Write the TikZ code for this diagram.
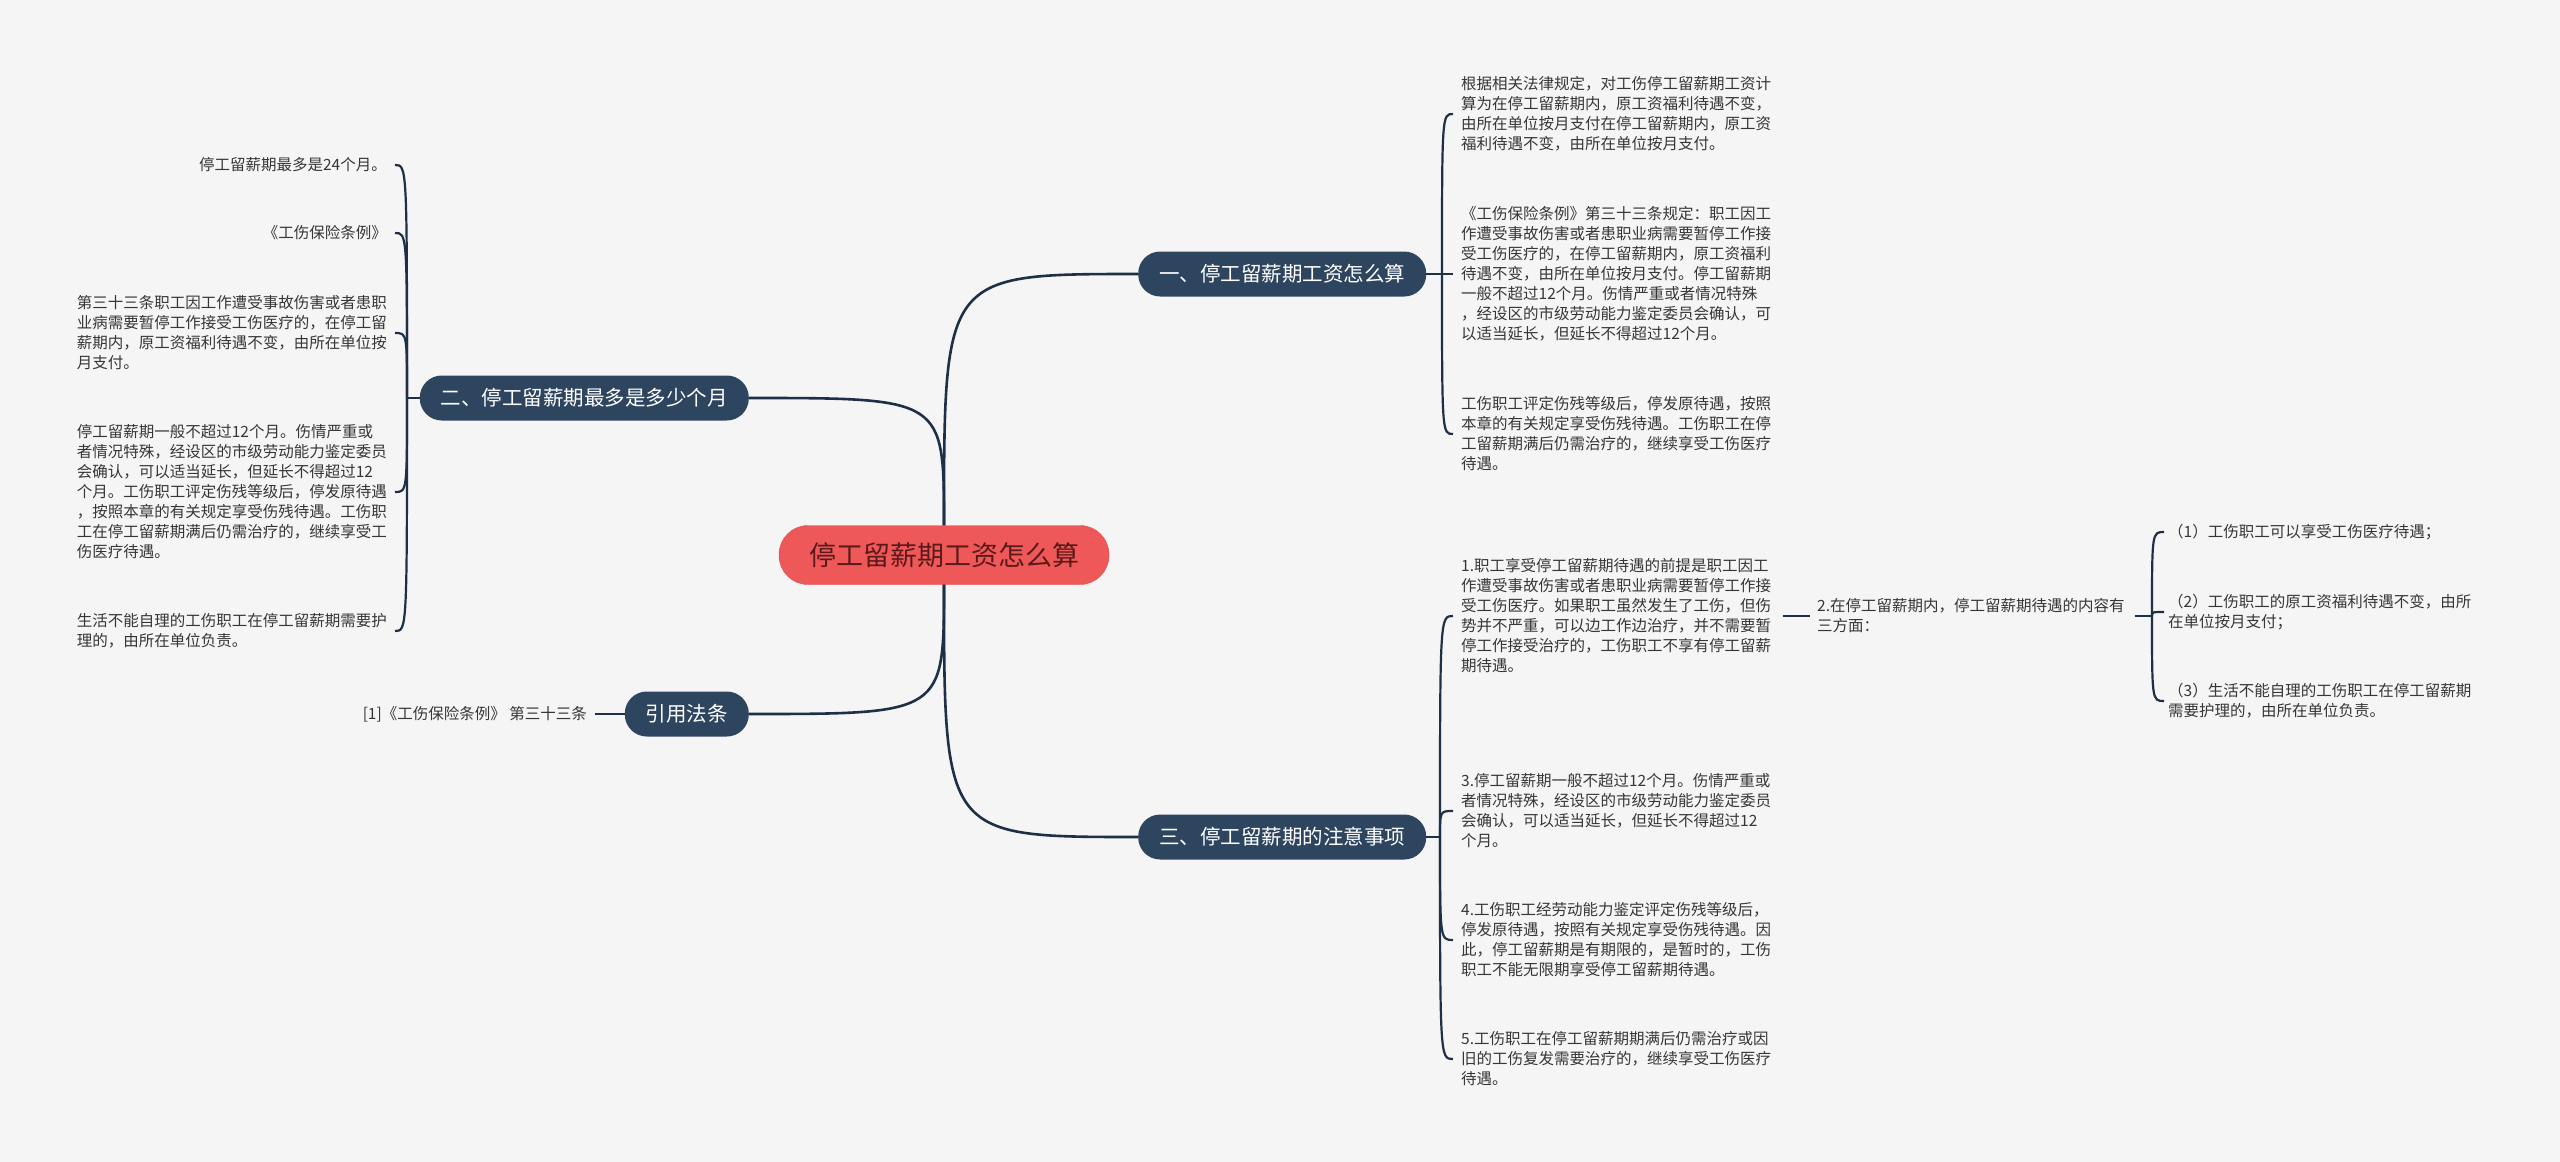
\documentclass[tikz,border=0pt]{standalone}
\usepackage{fontspec}
\setmainfont{Noto Sans CJK SC}
\definecolor{bgcol}{HTML}{F5F5F5}
\definecolor{rootfill}{HTML}{EF5858}
\definecolor{rootline}{HTML}{E04C4C}
\definecolor{roottext}{HTML}{5A1A1A}
\definecolor{branchfill}{HTML}{2E4560}
\definecolor{linkcol}{HTML}{1D3047}
\definecolor{leaftext}{HTML}{363636}
\tikzset{
  root/.style={draw=rootline, fill=rootfill, text=roottext, rounded corners=29pt,
    minimum height=59pt, inner xsep=30pt, font=\fontsize{27}{32}\selectfont},
  branch/.style={fill=branchfill, text=white, rounded corners=22pt,
    minimum height=45pt, inner xsep=21pt, font=\fontsize{20.5}{24}\selectfont},
  leaf/.style={text=leaftext, align=left, inner sep=0pt, font=\fontsize{15.5}{20}\selectfont},
  link/.style={draw=linkcol, line width=2.2pt},
  mainlink/.style={draw=linkcol, line width=2.6pt},
}
\begin{document}
\begin{tikzpicture}[x=1pt, y=-1pt]
    \fill [bgcol] (0,0) rectangle (2560,1162);
    \node [root] (root) at (944,555) {停工留薪期工资怎么算};
    \node [branch, anchor=west] (b1) at (1138,274) {一、停工留薪期工资怎么算};
    \node [branch, anchor=east] (b2) at (749,398) {二、停工留薪期最多是多少个月};
    \node [branch, anchor=east] (law) at (749,714) {引用法条};
    \node [branch, anchor=west] (b3) at (1138,837) {三、停工留薪期的注意事项};
    \draw [mainlink] (root.north) .. controls (root.north |- b1.west) .. (b1.west);
    \draw [mainlink] (root.north) .. controls (root.north |- b2.east) .. (b2.east);
    \draw [mainlink] (root.south) .. controls (root.south |- law.east) .. (law.east);
    \draw [mainlink] (root.south) .. controls (root.south |- b3.west) .. (b3.west);
    % branch one
    \coordinate (j1) at (1442,274);
    \node [leaf, anchor=west] (l1a) at (1461,114) {根据相关法律规定，对工伤停工留薪期工资计\\算为在停工留薪期内，原工资福利待遇不变，\\由所在单位按月支付在停工留薪期内，原工资\\福利待遇不变，由所在单位按月支付。};
    \node [leaf, anchor=west] (l1b) at (1461,274) {《工伤保险条例》第三十三条规定：职工因工\\作遭受事故伤害或者患职业病需要暂停工作接\\受工伤医疗的，在停工留薪期内，原工资福利\\待遇不变，由所在单位按月支付。停工留薪期\\一般不超过12个月。伤情严重或者情况特殊\\，经设区的市级劳动能力鉴定委员会确认，可\\以适当延长，但延长不得超过12个月。};
    \node [leaf, anchor=west] (l1c) at (1461,434) {工伤职工评定伤残等级后，停发原待遇，按照\\本章的有关规定享受伤残待遇。工伤职工在停\\工留薪期满后仍需治疗的，继续享受工伤医疗\\待遇。};
    \draw [link] (b1.east) -- (j1);
    \foreach \n in {l1a,l1b,l1c}
        \draw [link, shorten >=8pt] (j1) .. controls (j1 |- \n.west) .. (\n.west);
    % branch two
    \coordinate (j2) at (407,398);
    \node [leaf, anchor=east] (l2a) at (387,165) {停工留薪期最多是24个月。};
    \node [leaf, anchor=east] (l2b) at (387,233) {《工伤保险条例》};
    \node [leaf, anchor=east] (l2c) at (387,333) {第三十三条职工因工作遭受事故伤害或者患职\\业病需要暂停工作接受工伤医疗的，在停工留\\薪期内，原工资福利待遇不变，由所在单位按\\月支付。};
    \node [leaf, anchor=east] (l2d) at (387,492) {停工留薪期一般不超过12个月。伤情严重或\\者情况特殊，经设区的市级劳动能力鉴定委员\\会确认，可以适当延长，但延长不得超过12\\个月。工伤职工评定伤残等级后，停发原待遇\\，按照本章的有关规定享受伤残待遇。工伤职\\工在停工留薪期满后仍需治疗的，继续享受工\\伤医疗待遇。};
    \node [leaf, anchor=east] (l2e) at (387,631) {生活不能自理的工伤职工在停工留薪期需要护\\理的，由所在单位负责。};
    \draw [link] (b2.west) -- (j2);
    \foreach \n in {l2a,l2b,l2c,l2d,l2e}
        \draw [link, shorten >=8pt] (j2) .. controls (j2 |- \n.east) .. (\n.east);
    % cited law
    \node [leaf, anchor=east] (lawtext) at (587,714) {[1]《工伤保险条例》 第三十三条};
    \draw [link, shorten >=8pt] (law.west) -- (lawtext.east);
    % branch three
    \coordinate (j3) at (1440,837);
    \node [leaf, anchor=west] (l3a) at (1461,616) {1.职工享受停工留薪期待遇的前提是职工因工\\作遭受事故伤害或者患职业病需要暂停工作接\\受工伤医疗。如果职工虽然发生了工伤，但伤\\势并不严重，可以边工作边治疗，并不需要暂\\停工作接受治疗的，工伤职工不享有停工留薪\\期待遇。};
    \node [leaf, anchor=west] (l3c) at (1461,811) {3.停工留薪期一般不超过12个月。伤情严重或\\者情况特殊，经设区的市级劳动能力鉴定委员\\会确认，可以适当延长，但延长不得超过12\\个月。};
    \node [leaf, anchor=west] (l3d) at (1461,940) {4.工伤职工经劳动能力鉴定评定伤残等级后，\\停发原待遇，按照有关规定享受伤残待遇。因\\此，停工留薪期是有期限的，是暂时的，工伤\\职工不能无限期享受停工留薪期待遇。};
    \node [leaf, anchor=west] (l3e) at (1461,1059) {5.工伤职工在停工留薪期期满后仍需治疗或因\\旧的工伤复发需要治疗的，继续享受工伤医疗\\待遇。};
    \draw [link] (b3.east) -- (j3);
    \foreach \n in {l3a,l3c,l3d,l3e}
        \draw [link, shorten >=8pt] (j3) .. controls (j3 |- \n.west) .. (\n.west);
    % second item and its three points
    \node [leaf, anchor=west] (l3b) at (1817,616) {2.在停工留薪期内，停工留薪期待遇的内容有\\三方面：};
    \draw [link, shorten <=12pt, shorten >=7pt] (l3a.east) -- (l3b.west);
    \coordinate (j4) at (2152,616);
    \node [leaf, anchor=west] (p1) at (2168,532) {（1）工伤职工可以享受工伤医疗待遇；};
    \node [leaf, anchor=west] (p2) at (2168,612) {（2）工伤职工的原工资福利待遇不变，由所\\在单位按月支付；};
    \node [leaf, anchor=west] (p3) at (2168,701) {（3）生活不能自理的工伤职工在停工留薪期\\需要护理的，由所在单位负责。};
    \draw [link, shorten <=10pt] (l3b.east) -- (j4);
    \foreach \n in {p1,p2,p3}
        \draw [link, shorten >=4pt] (j4) .. controls (j4 |- \n.west) .. (\n.west);
\end{tikzpicture}
\end{document}
